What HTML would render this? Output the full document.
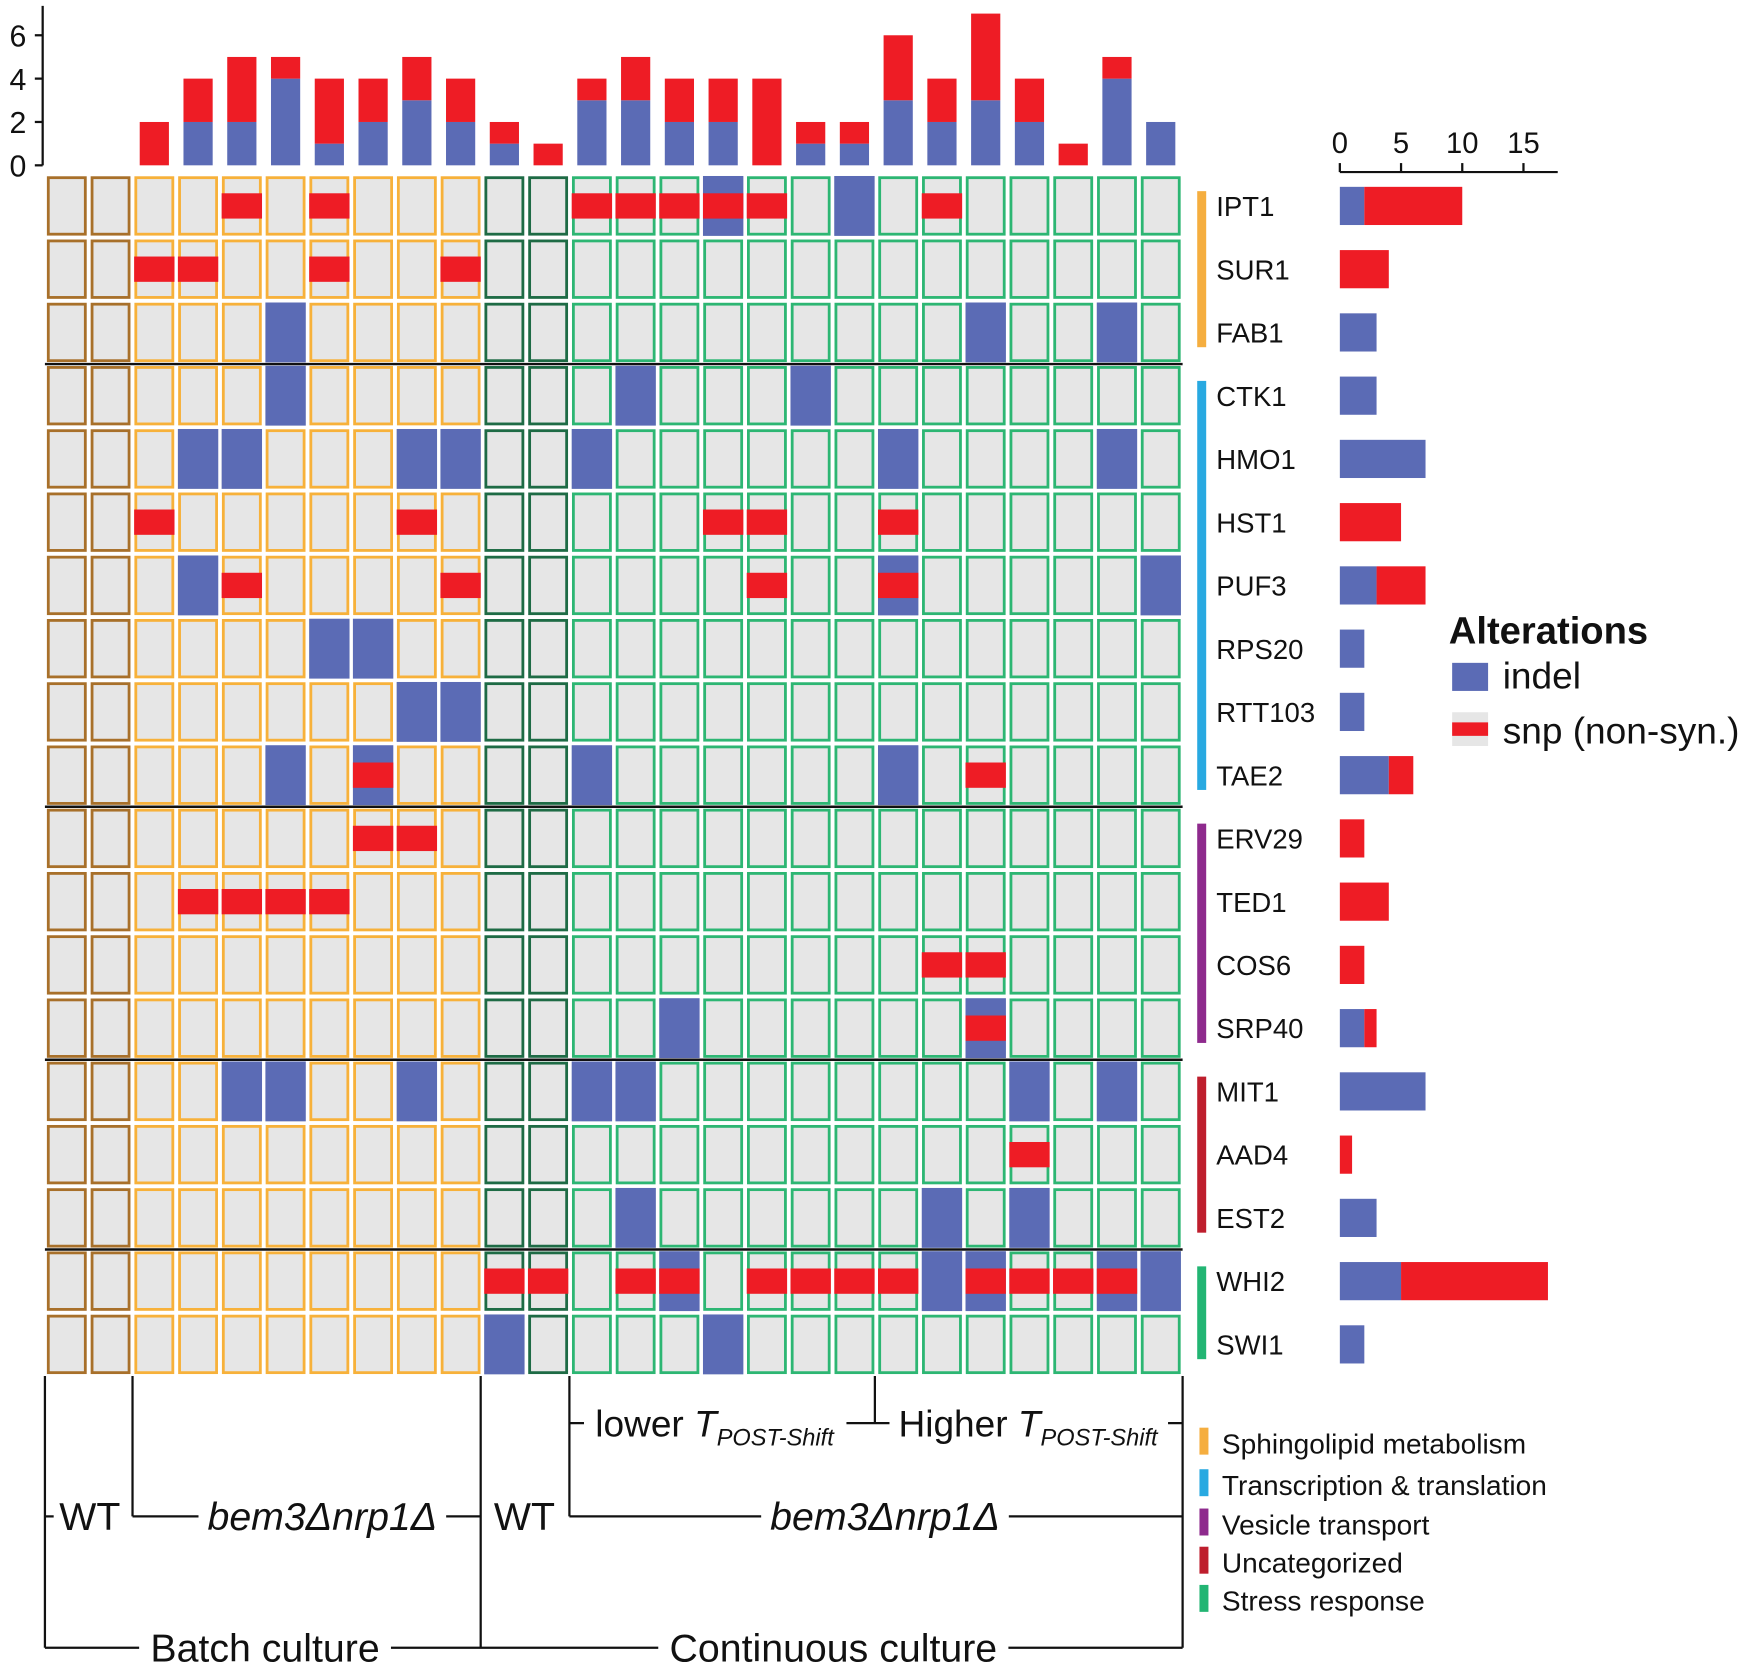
<!DOCTYPE html>
<html><head><meta charset="utf-8"><style>
html,body{margin:0;padding:0;background:#fff}
svg{display:block}
text{font-family:"Liberation Sans",Arial,sans-serif;fill:#111}
</style></head><body>
<svg id="chart" width="1761" height="1666" viewBox="0 0 1568 1483" xmlns="http://www.w3.org/2000/svg">
<g id="topbars"></g><g id="grid"></g><g id="right"></g><g id="labels"></g><g id="ann"></g>
</svg>
<script>
const genes=["IPT1","SUR1","FAB1","CTK1","HMO1","HST1","PUF3","RPS20","RTT103","TAE2","ERV29","TED1","COS6","SRP40","MIT1","AAD4","EST2","WHI2","SWI1"];
const geneGroups=[0,0,0,1,1,1,1,1,1,1,2,2,2,2,3,3,3,4,4];
const groupNames=["Sphingolipid metabolism","Transcription & translation","Vesicle transport","Uncategorized","Stress response"];
const groupColors=["#f5ae3f","#28a9e1","#8e2a8d","#be1e2d","#22b573"];
const indelCols=[[16,19],[],[6,22,25],[6,14,18],[4,5,9,10,13,20,25],[],[4,20,26],[7,8],[9,10],[6,8,13,20],[],[],[],[15,22],[5,6,9,13,14,23,25],[],[14,21,23],[15,21,22,25,26],[11,16]];
const snpCols=[[5,7,13,14,15,16,17,21],[3,4,7,10],[],[],[],[3,9,16,17,20],[5,10,17,20],[],[],[8,22],[8,9],[4,5,6,7],[21,22],[22],[],[23],[],[11,12,14,15,17,18,19,20,22,23,24,25],[]];
const colTicks=[0,2,4,6];
const rightTicks=[0,5,10,15];
const nCols=26;
const colOutline=c=>c<=2?"#a8702a":c<=10?"#f7b13a":c<=12?"#1e6b45":"#2db673";

const NS="http://www.w3.org/2000/svg";
function mk(tag,attrs,parent,txt){const el=document.createElementNS(NS,tag);for(const k in attrs)el.setAttribute(k,attrs[k]);if(txt!==undefined)el.textContent=txt;parent.appendChild(el);return el;}
const GL=40,GR=1053,GT=155,GB=1225;
const cw=(GR-GL)/nCols, rh=(GB-GT)/genes.length;
const xCol=c=>GL+(c-1)*cw, yRow=r=>GT+r*rh;
const BLUE="#5b6bb5",RED="#ee1c25",GRAY="#e6e6e6";

const colIndel=[],colSnp=[];
for(let c=1;c<=nCols;c++){let a=0,b=0;genes.forEach((g,r)=>{if(indelCols[r].includes(c))a++;if(snpCols[r].includes(c))b++;});colIndel.push(a);colSnp.push(b);}
const topG=document.getElementById('topbars');
const y0=147,yU=19.3,yv=v=>y0-v*yU;
let ee=mk('line',{x1:38,y1:5,x2:38,y2:y0,stroke:'#111','stroke-width':2},topG);


colTicks.forEach(t=>{let l=mk('line',{x1:31,x2:38,y1:yv(t),y2:yv(t),stroke:'#111','stroke-width':2},topG);


let tx=mk('text',{x:16,y:yv(t)+10,'font-size':27,'text-anchor':'middle'},topG,String(t));

});
for(let c=1;c<=nCols;c++){const bx=xCol(c)+cw/2-13,a=colIndel[c-1],b=colSnp[c-1];
 if(a>0){let r=mk('rect',{x:bx,y:yv(a),width:26,height:a*yU,fill:BLUE},topG);
 
 }
 if(b>0){let r=mk('rect',{x:bx,y:yv(a+b),width:26,height:b*yU,fill:RED},topG);
 
 }}
const grid=document.getElementById('grid');
genes.forEach((g,r)=>{for(let c=1;c<=nCols;c++){const x=xCol(c),y=yRow(r);
 let cell=mk('rect',{x:x+3,y:y+3,width:cw-6,height:rh-6,fill:GRAY,stroke:colOutline(c),'stroke-width':2.5},grid);
 
 
 if(indelCols[r].includes(c)){let b=mk('rect',{x:x+1.5,y:y+1.5,width:cw-3,height:rh-3,fill:BLUE},grid);
 
 }
 if(snpCols[r].includes(c)){let b=mk('rect',{x:x+1.5,y:y+rh*0.3,width:cw-3,height:rh*0.4,fill:RED},grid);
 
 }
}});
[3,10,14,17].forEach(r=>{let l=mk('line',{x1:GL,x2:GR,y1:yRow(r),y2:yRow(r),stroke:'#111','stroke-width':2.2},grid);

});
const lab=document.getElementById('labels');
genes.forEach((g,r)=>{let t=mk('text',{x:1083,y:yRow(r)+rh/2+9,'font-size':24.5},lab,g);

});
for(let gi=0;gi<5;gi++){const rows=genes.map((g,i)=>i).filter(i=>geneGroups[i]===gi);
 let b=mk('rect',{x:1066,y:yRow(rows[0])+15,width:8,height:rows.length*rh-30,fill:groupColors[gi]},lab);
 
 }
const rt=document.getElementById('right');
const x0=1193,xU=10.9,xv=v=>x0+v*xU;
ee=mk('line',{x1:x0,x2:1387,y1:153,y2:153,stroke:'#111','stroke-width':2},rt);


rightTicks.forEach(t=>{let l=mk('line',{x1:xv(t),x2:xv(t),y1:145,y2:153,stroke:'#111','stroke-width':2},rt);


let tx=mk('text',{x:xv(t),y:136,'font-size':26,'text-anchor':'middle'},rt,String(t));

});
genes.forEach((g,r)=>{const a=indelCols[r].length,b=snpCols[r].length,yc=yRow(r)+rh/2;
 if(a>0){let q=mk('rect',{x:xv(0),y:yc-17,width:a*xU,height:34,fill:BLUE},rt);
 
 }
 if(b>0){let q=mk('rect',{x:xv(a),y:yc-17,width:b*xU,height:34,fill:RED},rt);
 
 }});
const ann=document.getElementById('ann');
function T(x,y,s,txt,name,extra){let t=mk('text',Object.assign({x:x,y:y,'font-size':s},extra||{}),ann,txt);

return t;}
function L(x1,y1,x2,y2,name){let l=mk('line',{x1,y1,x2,y2,stroke:'#111','stroke-width':2},ann);

}
T(1290,573,34,'Alterations','legend-title',{'font-weight':'bold'});
let sw=mk('rect',{x:1293,y:590,width:32,height:25,fill:BLUE},ann);


T(1338,613,33,'indel','legend-indel-label');
sw=mk('rect',{x:1293,y:634,width:32,height:30,fill:GRAY},ann);


sw=mk('rect',{x:1293,y:643,width:32,height:12,fill:RED},ann);


T(1338,662,33,'snp (non-syn.)','legend-snp-label');
const ly=[1285,1322,1357,1391,1425];
groupNames.forEach((n,i)=>{let r=mk('rect',{x:1068,y:ly[i]-14,width:8,height:24,fill:groupColors[i]},ann);
 
 
 T(1088,ly[i]+9,25,n,'category-legend-label');});
[40,428,GR].forEach(x=>L(x,GB,x,1467,'bracket-vline'));
[118,507].forEach(x=>L(x,GB,x,1350,'bracket-vline'));
L(779,GB,779,1267,'bracket-vline');
L(507,1267,GR,1267,'bracket-hline');L(118,1350,428,1350,'bracket-hline');L(507,1350,GR,1350,'bracket-hline');L(40,1467,GR,1467,'bracket-hline');
L(40,1350,52,1350,'bracket-hline');
function bgFor(t,pad){const b=t.getBBox();let r=document.createElementNS(NS,'rect');
 r.setAttribute('x',b.x-pad);r.setAttribute('y',b.y);r.setAttribute('width',b.width+2*pad);r.setAttribute('height',b.height);r.setAttribute('fill','#fff');
 
 
 ann.insertBefore(r,t);}
let tt=T(530,1279,33,'lower ','lower-t-label');mk('tspan',{'font-style':'italic'},tt,'T');mk('tspan',{'font-style':'italic','font-size':21,dy:8},tt,'POST-Shift');bgFor(tt,10);
tt=T(800,1279,33,'Higher ','higher-t-label');mk('tspan',{'font-style':'italic'},tt,'T');mk('tspan',{'font-style':'italic','font-size':21,dy:8},tt,'POST-Shift');bgFor(tt,8);
bgFor(T(80,1362,35,'WT','wt-batch-label',{'text-anchor':'middle'}),5);
bgFor(T(287,1362,35,'bem3Δnrp1Δ','batch-strain-label',{'text-anchor':'middle','font-style':'italic'}),8);
bgFor(T(467,1362,35,'WT','wt-continuous-label',{'text-anchor':'middle'}),5);
bgFor(T(788,1362,35,'bem3Δnrp1Δ','continuous-strain-label',{'text-anchor':'middle','font-style':'italic'}),8);
bgFor(T(236,1479,35,'Batch culture','batch-culture-label',{'text-anchor':'middle'}),10);
bgFor(T(742,1479,35,'Continuous culture','continuous-culture-label',{'text-anchor':'middle'}),10);
</script>
</body></html>
